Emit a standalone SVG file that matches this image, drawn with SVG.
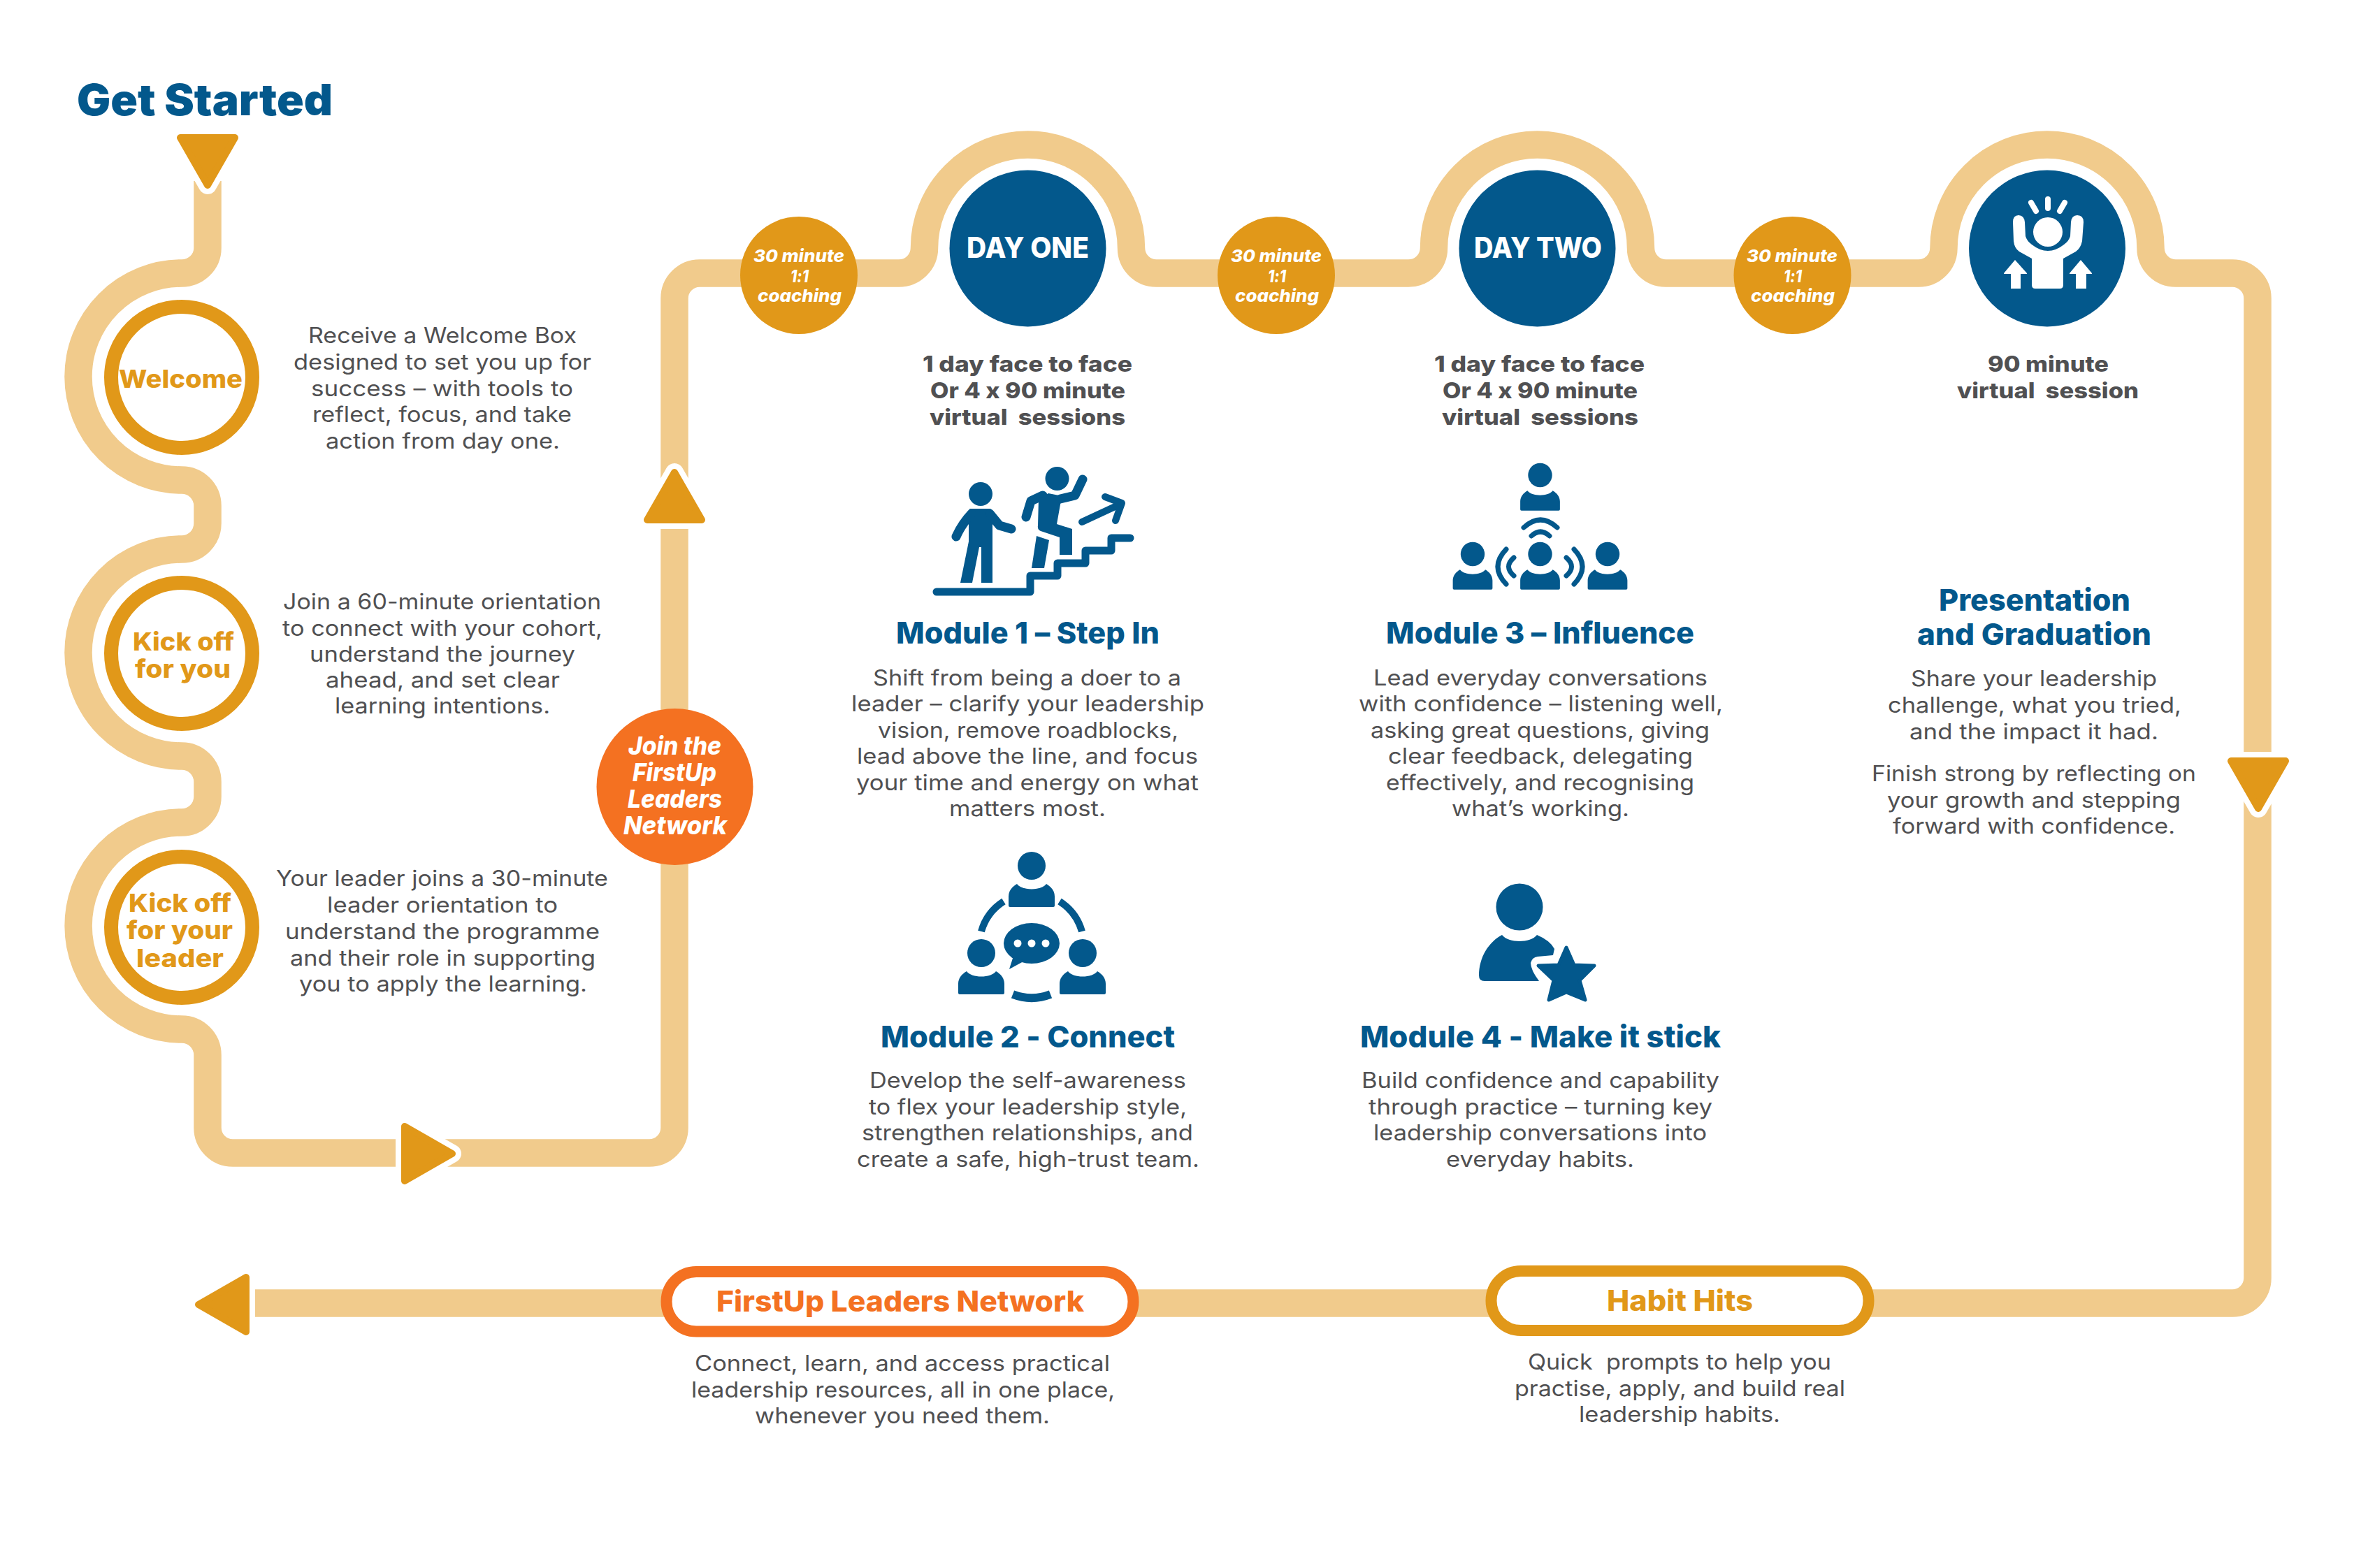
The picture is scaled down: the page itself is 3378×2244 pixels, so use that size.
<svg xmlns="http://www.w3.org/2000/svg" xmlns:xlink="http://www.w3.org/1999/xlink" width="3378" height="2244" viewBox="0 0 3378 2244">
<style>
text{font-family:"Inter","Liberation Sans",sans-serif;font-feature-settings:"calt" 0,"liga" 0;font-variant-ligatures:none}
.b{font-size:31px;font-weight:400;fill:#505052}
.s{font-size:31px;font-weight:800;fill:#505052}
.t{font-size:43px;font-weight:800;fill:#03588C}
.g{font-size:36px;font-weight:800;fill:#E19819}
.w{font-size:36px;font-weight:800;font-style:italic;fill:#fff}
.c{font-size:25px;font-weight:800;font-style:italic;fill:#fff}
.d{font-size:41px;font-weight:800;fill:#fff}
.gold{fill:#E19819}.blue{fill:#03588C}.orange{fill:#F47121}
.ring{fill:#fff;stroke:#E19819;stroke-width:20}
.ln{fill:none;stroke:#03588C;stroke-linecap:round;stroke-linejoin:round}
.wl{fill:none;stroke:#fff;stroke-linecap:round}
</style>
<defs>
<g id="arrow">
<polygon points="-39,-34 39,-34 0,34" fill="#fff" stroke="#fff" stroke-width="26" stroke-linejoin="round"/>
<polygon points="-39,-34 39,-34 0,34" fill="#E19819" stroke="#E19819" stroke-width="10" stroke-linejoin="round"/>
</g>
<g id="person">
<circle cx="0" cy="0" r="20"/>
<path d="M-33 57Q-33 59 -31 59H31Q33 59 33 57V44C33 36 28 30 21 26C14 36 -14 36 -21 26C-28 30 -33 36 -33 44Z"/>
</g>
</defs>
<rect width="3378" height="2244" fill="#fff"/>

<g id="connectors">
<path fill="none" stroke="#F1CB8C" stroke-width="39.5" d="M297 259V355A37 36 0 0 1 260 391A148 148 0 0 0 260 687A37 37 0 0 1 297 724V749A37 37 0 0 1 260 786A148 148 0 0 0 260 1082A37 37 0 0 1 297 1119V1140A37 37 0 0 1 260 1177A148 148 0 0 0 260 1473A37 37 0 0 1 297 1510V1614A36 36 0 0 0 333 1650H929A36 36 0 0 0 965 1614V427A36 36 0 0 1 1001 391H1286A36.5 36 0 0 0 1322.5 355A148 148 0 0 1 1618.5 355A36 36 0 0 0 1654.5 391H2015A36.5 36 0 0 0 2051.5 355A148 148 0 0 1 2347.5 355A36 36 0 0 0 2383.5 391H2745A36 36 0 0 0 2781 355A148 148 0 0 1 3077 355A36 36 0 0 0 3113 391H3194A36 36 0 0 1 3230 427V1829A36 36 0 0 1 3194 1865H364"/>
<use xlink:href="#arrow" href="#arrow" transform="translate(297 231)"/>
<use xlink:href="#arrow" href="#arrow" transform="translate(965 710) rotate(180)"/>
<use xlink:href="#arrow" href="#arrow" transform="translate(613 1651) rotate(-90)"/>
<use xlink:href="#arrow" href="#arrow" transform="translate(3231 1123)"/>
<use xlink:href="#arrow" href="#arrow" transform="translate(318 1867) rotate(90)"/>
</g>

<g id="get-started">
<text x="110" y="165" font-size="62" font-weight="900" fill="#03588C" textLength="366" lengthAdjust="spacingAndGlyphs">Get Started</text>
</g>

<g id="welcome">
<circle class="ring" cx="260" cy="540" r="101"/>
<text class="g" x="170" y="555" textLength="177" lengthAdjust="spacingAndGlyphs">Welcome</text>
<text class="b" x="441" y="491" textLength="384" lengthAdjust="spacingAndGlyphs">Receive a Welcome Box</text>
<text class="b" x="420" y="529" textLength="426" lengthAdjust="spacingAndGlyphs">designed to set you up for</text>
<text class="b" x="445" y="567" textLength="375" lengthAdjust="spacingAndGlyphs">success – with tools to</text>
<text class="b" x="447" y="604" textLength="371" lengthAdjust="spacingAndGlyphs">reflect, focus, and take</text>
<text class="b" x="466" y="642" textLength="335" lengthAdjust="spacingAndGlyphs">action from day one.</text>
</g>

<g id="kickoff-you">
<circle class="ring" cx="260" cy="935" r="101"/>
<text class="g" x="190" y="931" textLength="145" lengthAdjust="spacingAndGlyphs">Kick off</text>
<text class="g" x="193" y="970" textLength="137" lengthAdjust="spacingAndGlyphs">for you</text>
<text class="b" x="405" y="872" textLength="455" lengthAdjust="spacingAndGlyphs">Join a 60-minute orientation</text>
<text class="b" x="404" y="910" textLength="458" lengthAdjust="spacingAndGlyphs">to connect with your cohort,</text>
<text class="b" x="443" y="947" textLength="380" lengthAdjust="spacingAndGlyphs">understand the journey</text>
<text class="b" x="466" y="984" textLength="335" lengthAdjust="spacingAndGlyphs">ahead, and set clear</text>
<text class="b" x="479" y="1021" textLength="308" lengthAdjust="spacingAndGlyphs">learning intentions.</text>
</g>

<g id="kickoff-leader">
<circle class="ring" cx="260" cy="1327" r="101"/>
<text class="g" x="184" y="1305" textLength="147" lengthAdjust="spacingAndGlyphs">Kick off</text>
<text class="g" x="181" y="1344" textLength="152" lengthAdjust="spacingAndGlyphs">for your</text>
<text class="g" x="195" y="1384" textLength="125" lengthAdjust="spacingAndGlyphs">leader</text>
<text class="b" x="395" y="1268" textLength="475" lengthAdjust="spacingAndGlyphs">Your leader joins a 30-minute</text>
<text class="b" x="468" y="1306" textLength="330" lengthAdjust="spacingAndGlyphs">leader orientation to</text>
<text class="b" x="408" y="1344" textLength="450" lengthAdjust="spacingAndGlyphs">understand the programme</text>
<text class="b" x="415" y="1382" textLength="437" lengthAdjust="spacingAndGlyphs">and their role in supporting</text>
<text class="b" x="428" y="1419" textLength="412" lengthAdjust="spacingAndGlyphs">you to apply the learning.</text>
</g>

<g id="join-network">
<circle class="orange" cx="965.5" cy="1126" r="112"/>
<text class="w" x="899" y="1080" textLength="133" lengthAdjust="spacingAndGlyphs">Join the</text>
<text class="w" x="905" y="1118" textLength="120" lengthAdjust="spacingAndGlyphs">FirstUp</text>
<text class="w" x="898" y="1156" textLength="135" lengthAdjust="spacingAndGlyphs">Leaders</text>
<text class="w" x="892" y="1194" textLength="148" lengthAdjust="spacingAndGlyphs">Network</text>
</g>

<g id="coaching-1">
<circle class="gold" cx="1143" cy="394" r="84"/>
<text class="c" x="1078" y="375" textLength="130" lengthAdjust="spacingAndGlyphs">30 minute</text>
<text class="c" x="1131" y="404" textLength="26" lengthAdjust="spacingAndGlyphs">1:1</text>
<text class="c" x="1084" y="432" textLength="120" lengthAdjust="spacingAndGlyphs">coaching</text>
</g>
<g id="coaching-2">
<circle class="gold" cx="1826" cy="394" r="84"/>
<text class="c" x="1761" y="375" textLength="130" lengthAdjust="spacingAndGlyphs">30 minute</text>
<text class="c" x="1814" y="404" textLength="26" lengthAdjust="spacingAndGlyphs">1:1</text>
<text class="c" x="1767" y="432" textLength="120" lengthAdjust="spacingAndGlyphs">coaching</text>
</g>
<g id="coaching-3">
<circle class="gold" cx="2564.5" cy="394" r="84"/>
<text class="c" x="2499" y="375" textLength="130" lengthAdjust="spacingAndGlyphs">30 minute</text>
<text class="c" x="2552" y="404" textLength="26" lengthAdjust="spacingAndGlyphs">1:1</text>
<text class="c" x="2505" y="432" textLength="120" lengthAdjust="spacingAndGlyphs">coaching</text>
</g>

<g id="day-one">
<circle class="blue" cx="1470.5" cy="355.5" r="112"/>
<text class="d" x="1383" y="369" textLength="175" lengthAdjust="spacingAndGlyphs">DAY ONE</text>
<text class="s" x="1320" y="532" textLength="300" lengthAdjust="spacingAndGlyphs">1 day face to face</text>
<text class="s" x="1331" y="570" textLength="279" lengthAdjust="spacingAndGlyphs">Or 4 x 90 minute</text>
<text class="s" x="1330" y="608" textLength="280" lengthAdjust="spacingAndGlyphs" xml:space="preserve">virtual  sessions</text>
</g>

<g id="day-two">
<circle class="blue" cx="2199.5" cy="355.5" r="112"/>
<text class="d" x="2109" y="369" textLength="183" lengthAdjust="spacingAndGlyphs">DAY TWO</text>
<text class="s" x="2052" y="532" textLength="301" lengthAdjust="spacingAndGlyphs">1 day face to face</text>
<text class="s" x="2064" y="570" textLength="279" lengthAdjust="spacingAndGlyphs">Or 4 x 90 minute</text>
<text class="s" x="2063" y="608" textLength="281" lengthAdjust="spacingAndGlyphs" xml:space="preserve">virtual  sessions</text>
</g>

<g id="final-session">
<circle class="blue" cx="2929" cy="355.5" r="112"/>
<g id="raised-hands-icon">
<circle cx="2930" cy="332" r="21" fill="#fff"/>
<path class="wl" stroke-width="8" d="M2930 285V298M2906 290L2913 302M2954 290L2947 302"/>
<path fill="#fff" d="M2880 318Q2880 308 2888 308Q2896 308 2897 318L2898 338Q2900 345 2907 350Q2930 368 2953 350Q2960 345 2962 338L2963 318Q2964 308 2972 308Q2981 308 2981 318L2979 345Q2977 355 2970 360L2952 370V408Q2952 413 2947 413H2912Q2907 413 2907 408V370L2889 360Q2882 355 2881 345Z"/>
<path fill="#fff" d="M2883 372L2900 391V392H2891V413H2877V392H2867V391Z"/>
<path fill="#fff" d="M2977 372L2993 391V392H2985V413H2970V392H2961V391Z"/>
</g>
<text class="s" x="2844" y="532" textLength="173" lengthAdjust="spacingAndGlyphs">90 minute</text>
<text class="s" x="2800" y="570" textLength="260" lengthAdjust="spacingAndGlyphs" xml:space="preserve">virtual  session</text>
</g>

<g id="graduation">
<text class="t" x="2774" y="874" textLength="274" lengthAdjust="spacingAndGlyphs">Presentation</text>
<text class="t" x="2743" y="923" textLength="335" lengthAdjust="spacingAndGlyphs">and Graduation</text>
<text class="b" x="2734" y="982" textLength="352" lengthAdjust="spacingAndGlyphs">Share your leadership</text>
<text class="b" x="2701" y="1020" textLength="420" lengthAdjust="spacingAndGlyphs">challenge, what you tried,</text>
<text class="b" x="2732" y="1058" textLength="356" lengthAdjust="spacingAndGlyphs">and the impact it had.</text>
<text class="b" x="2678" y="1118" textLength="464" lengthAdjust="spacingAndGlyphs">Finish strong by reflecting on</text>
<text class="b" x="2700" y="1156" textLength="420" lengthAdjust="spacingAndGlyphs">your growth and stepping</text>
<text class="b" x="2708" y="1193" textLength="404" lengthAdjust="spacingAndGlyphs">forward with confidence.</text>
</g>

<g id="module-1">
<g id="step-icon">
<path class="ln" stroke-width="11" d="M1340 847H1474V824H1513V806H1553V788H1590V770H1617"/>
<circle class="blue" cx="1403" cy="707" r="17"/>
<path class="blue" d="M1388 728H1416Q1420 728 1420 736V834H1404V783H1401L1391 834H1374L1386 775V736Q1386 728 1388 728Z"/>
<path class="ln" stroke-width="13" d="M1390 735Q1376 750 1368 768M1416 735L1430 752L1447 757"/>
<circle class="blue" cx="1512.5" cy="685" r="17"/>
<path class="ln" stroke-width="13" d="M1492 709L1475 717L1468 740M1517 714L1538 709L1549 686"/>
<path class="blue" d="M1486 714L1500 706L1520 710L1517 722L1512 750L1534 757V794H1516V769L1489 760Q1484 758 1485 752Z"/>
<path class="blue" d="M1483 767L1501 773L1494 813H1476Z"/>
<path class="ln" stroke-width="10" d="M1548 747L1604 721M1581 711L1605 720L1596 745"/>
</g>
<text class="t" x="1282" y="921" textLength="377" lengthAdjust="spacingAndGlyphs">Module 1 – Step In</text>
<text class="b" x="1249" y="981" textLength="441" lengthAdjust="spacingAndGlyphs">Shift from being a doer to a</text>
<text class="b" x="1218" y="1018" textLength="505" lengthAdjust="spacingAndGlyphs">leader – clarify your leadership</text>
<text class="b" x="1256" y="1056" textLength="430" lengthAdjust="spacingAndGlyphs">vision, remove roadblocks,</text>
<text class="b" x="1226" y="1093" textLength="488" lengthAdjust="spacingAndGlyphs">lead above the line, and focus</text>
<text class="b" x="1225" y="1131" textLength="490" lengthAdjust="spacingAndGlyphs">your time and energy on what</text>
<text class="b" x="1358" y="1168" textLength="224" lengthAdjust="spacingAndGlyphs">matters most.</text>
</g>

<g id="module-3">
<g id="influence-icon" class="blue">
<use xlink:href="#person" href="#person" transform="translate(2203.5 680) scale(.86)"/>
<use xlink:href="#person" href="#person" transform="translate(2107 793) scale(.86)"/>
<use xlink:href="#person" href="#person" transform="translate(2203.5 793) scale(.86)"/>
<use xlink:href="#person" href="#person" transform="translate(2300 793) scale(.86)"/>
<path class="ln" stroke-width="7" d="M2180 755Q2204 733 2228 755M2191 767Q2204 755 2217 767M2155 786Q2131 811 2155 836M2166 798Q2151 811 2166 824M2252 786Q2276 811 2252 836M2241 798Q2256 811 2241 824"/>
</g>
<text class="t" x="1983" y="921" textLength="441" lengthAdjust="spacingAndGlyphs">Module 3 – Influence</text>
<text class="b" x="1965" y="981" textLength="478" lengthAdjust="spacingAndGlyphs">Lead everyday conversations</text>
<text class="b" x="1944" y="1018" textLength="521" lengthAdjust="spacingAndGlyphs">with confidence – listening well,</text>
<text class="b" x="1961" y="1056" textLength="485" lengthAdjust="spacingAndGlyphs">asking great questions, giving</text>
<text class="b" x="1986" y="1093" textLength="436" lengthAdjust="spacingAndGlyphs">clear feedback, delegating</text>
<text class="b" x="1983" y="1131" textLength="441" lengthAdjust="spacingAndGlyphs">effectively, and recognising</text>
<text class="b" x="2077" y="1168" textLength="254" lengthAdjust="spacingAndGlyphs">what’s working.</text>
</g>

<g id="module-2">
<g id="connect-icon" class="blue">
<use xlink:href="#person" href="#person" transform="translate(1476 1239)"/>
<use xlink:href="#person" href="#person" transform="translate(1404 1364)"/>
<use xlink:href="#person" href="#person" transform="translate(1549 1364)"/>
<path fill="none" stroke="#03588C" stroke-width="10" d="M1436 1290A75 75 0 0 0 1404 1333M1516 1290A75 75 0 0 1 1548 1333"/>
<path fill="none" stroke="#03588C" stroke-width="12" d="M1449 1423A75 75 0 0 0 1503 1423"/>
<ellipse cx="1476" cy="1350" rx="40" ry="29"/>
<path d="M1450 1368L1444 1387L1466 1375Z"/>
<circle cx="1456" cy="1350" r="5.5" fill="#fff"/>
<circle cx="1476" cy="1350" r="5.5" fill="#fff"/>
<circle cx="1496" cy="1350" r="5.5" fill="#fff"/>
</g>
<text class="t" x="1260" y="1499" textLength="421" lengthAdjust="spacingAndGlyphs">Module 2 - Connect</text>
<text class="b" x="1244" y="1557" textLength="453" lengthAdjust="spacingAndGlyphs">Develop the self-awareness</text>
<text class="b" x="1243" y="1595" textLength="455" lengthAdjust="spacingAndGlyphs">to flex your leadership style,</text>
<text class="b" x="1233" y="1632" textLength="474" lengthAdjust="spacingAndGlyphs">strengthen relationships, and</text>
<text class="b" x="1226" y="1670" textLength="490" lengthAdjust="spacingAndGlyphs">create a safe, high-trust team.</text>
</g>

<g id="module-4">
<g id="star-icon" class="blue">
<circle cx="2174" cy="1298" r="33.5"/>
<path d="M2116 1396Q2116 1404 2124 1404H2202Q2190 1388 2190 1378Q2192 1370 2200 1369L2222 1367L2224 1358Q2218 1346 2199 1338C2190 1350 2158 1350 2149 1338C2130 1348 2116 1370 2116 1396Z"/>
<polygon points="2241,1356 2252,1381 2281,1382 2260,1403 2268,1431 2241,1420 2216,1431 2223,1403 2201,1382 2230,1381" stroke="#03588C" stroke-width="5" stroke-linejoin="round"/>
</g>
<text class="t" x="1946" y="1499" textLength="516" lengthAdjust="spacingAndGlyphs">Module 4 - Make it stick</text>
<text class="b" x="1948" y="1557" textLength="512" lengthAdjust="spacingAndGlyphs">Build confidence and capability</text>
<text class="b" x="1958" y="1595" textLength="492" lengthAdjust="spacingAndGlyphs">through practice – turning key</text>
<text class="b" x="1965" y="1632" textLength="477" lengthAdjust="spacingAndGlyphs">leadership conversations into</text>
<text class="b" x="2069" y="1670" textLength="269" lengthAdjust="spacingAndGlyphs">everyday habits.</text>
</g>

<g id="firstup-network">
<rect x="953.5" y="1820" width="668" height="85.5" rx="42.7" fill="#fff" stroke="#F47121" stroke-width="16"/>
<text x="1025" y="1877" font-size="41" font-weight="800" fill="#F47121" textLength="526" lengthAdjust="spacingAndGlyphs">FirstUp Leaders Network</text>
<text class="b" x="994" y="1962" textLength="594" lengthAdjust="spacingAndGlyphs">Connect, learn, and access practical</text>
<text class="b" x="989" y="2000" textLength="606" lengthAdjust="spacingAndGlyphs">leadership resources, all in one place,</text>
<text class="b" x="1080" y="2037" textLength="422" lengthAdjust="spacingAndGlyphs">whenever you need them.</text>
</g>

<g id="habit-hits">
<rect x="2133.5" y="1819" width="540" height="85" rx="42.5" fill="#fff" stroke="#E19819" stroke-width="16"/>
<text x="2299" y="1876" font-size="41" font-weight="800" fill="#E19819" textLength="209" lengthAdjust="spacingAndGlyphs">Habit Hits</text>
<text class="b" x="2186" y="1960" textLength="434" lengthAdjust="spacingAndGlyphs" xml:space="preserve">Quick  prompts to help you</text>
<text class="b" x="2167" y="1998" textLength="473" lengthAdjust="spacingAndGlyphs">practise, apply, and build real</text>
<text class="b" x="2259" y="2035" textLength="288" lengthAdjust="spacingAndGlyphs">leadership habits.</text>
</g>
</svg>
